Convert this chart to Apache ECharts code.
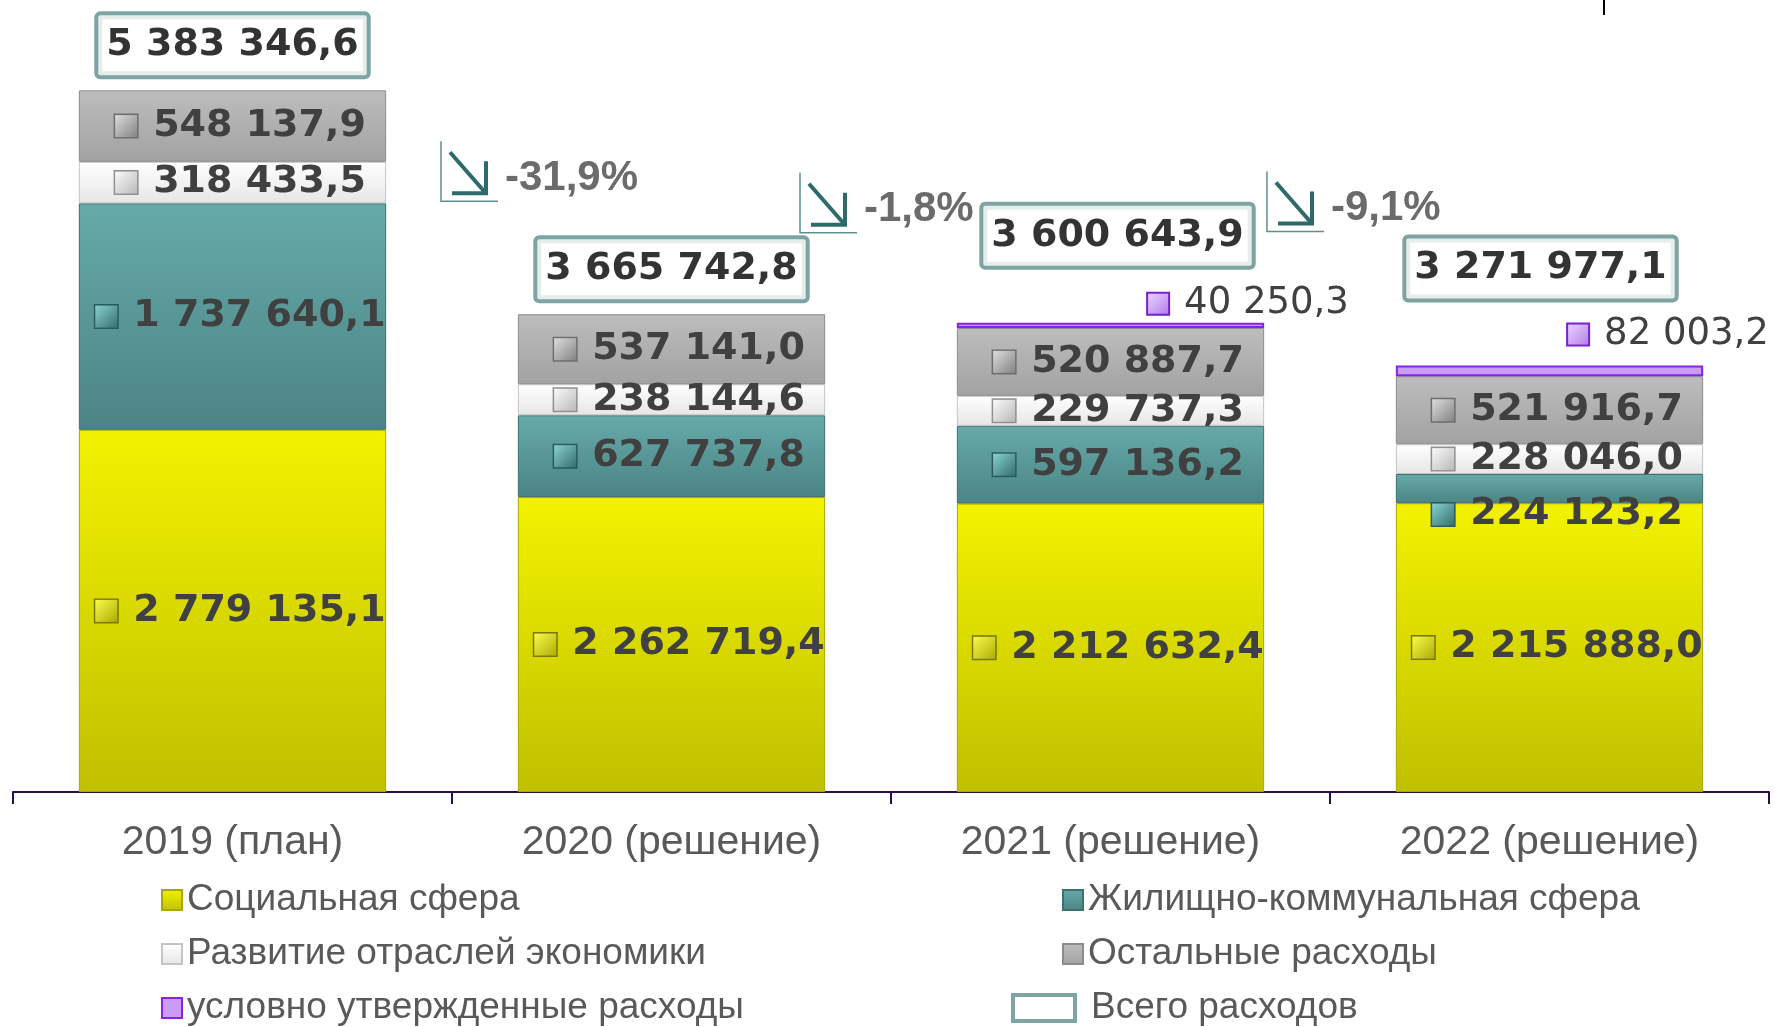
<!DOCTYPE html>
<html>
<head>
<meta charset="utf-8">
<script src="https://cdn.jsdelivr.net/npm/echarts@6/dist/echarts.min.js"></script>
<style>
html,body{margin:0;padding:0;background:#fff;}
#chart{width:1775px;height:1027px;}
</style>
</head>
<body>
<div id="chart"></div>
<script>
// ---- data ----
const categories = ['2019 (план)', '2020 (решение)', '2021 (решение)', '2022 (решение)'];
const social = [2779135.1, 2262719.4, 2212632.4, 2215888.0];
const housing = [1737640.1, 627737.8, 597136.2, 224123.2];
const economy = [318433.5, 238144.6, 229737.3, 228046.0];
const other = [548137.9, 537141.0, 520887.7, 521916.7];
const conditional = ['-', '-', 40250.3, 82003.2];
const totals = [5383346.6, 3665742.8, 3600643.9, 3271977.1];
const changeLabels = ['-31,9%', '-1,8%', '-9,1%'];
const names = {
  social: 'Социальная сфера',
  housing: 'Жилищно-коммунальная сфера',
  economy: 'Развитие отраслей экономики',
  other: 'Остальные расходы',
  conditional: 'условно утвержденные расходы',
  total: 'Всего расходов'
};

function fmt(v) {
  const parts = Number(v).toFixed(1).split('.');
  return parts[0].replace(/\B(?=(\d{3})+(?!\d))/g, ' ') + ',' + parts[1];
}

function grad(top, bottom) {
  return new echarts.graphic.LinearGradient(0, 0, 0, 1, [
    { offset: 0, color: top }, { offset: 1, color: bottom }
  ]);
}
function keyGrad(light, dark) {
  return new echarts.graphic.LinearGradient(0, 0, 1, 1, [
    { offset: 0, color: light }, { offset: 1, color: dark }
  ]);
}

const VAL_FONT = 'DejaVu Sans';
const TXT_FONT = 'Liberation Sans, Arial, sans-serif';

function segLabel(keyFill, keyBorder) {
  return {
    show: true,
    position: 'inside',
    offset: [8, 0],
    formatter: p => '{k| }{s|}{v|' + fmt(p.value) + '}',
    rich: {
      k: { width: 22, height: 22, backgroundColor: keyFill, borderColor: keyBorder, borderWidth: 1.5 },
      s: { width: 16 },
      v: { fontFamily: VAL_FONT, fontWeight: 'bold', fontSize: 38, color: '#404040', lineHeight: 42 }
    }
  };
}

const colors = {
  social: grad('#f2f200', '#c0c000'),
  housing: grad('#66aaaa', '#4c8484'),
  economy: grad('#ffffff', '#e6e6e6'),
  other: grad('#bdbdbd', '#a2a2a2'),
  conditional: '#c99cf6'
};

const chart = echarts.init(document.getElementById('chart'), null, { renderer: 'canvas' });

const annoDx = [-11, -91, -63];
const annoDy = [-173, -150, -194];

const legendText = { fontFamily: TXT_FONT, fontSize: 37, color: '#595959', lineHeight: 40 };
function legendAt(name, left, top) {
  return {
    orient: 'vertical', left: left, top: top, padding: 0, itemWidth: 20, itemHeight: 20, icon: 'rect',
    selectedMode: false, textStyle: legendText, data: [name]
  };
}

const option = {
  animation: false,
  backgroundColor: '#ffffff',
  grid: { left: 13, right: 6, top: 10, bottom: 235 },
  xAxis: {
    type: 'category',
    data: categories,
    axisLine: { show: true, lineStyle: { color: '#2b0b4f', width: 2 } },
    axisTick: { show: true, length: 12, lineStyle: { color: '#2b0b4f', width: 2 } },
    axisLabel: { fontFamily: TXT_FONT, fontSize: 41, color: '#595959', margin: 30 },
    splitLine: { show: false }
  },
  yAxis: { type: 'value', min: 0, max: 6000000, show: false, splitLine: { show: false } },
  legend: [
    legendAt(names.social, 161, 880),
    legendAt(names.economy, 161, 934),
    legendAt(names.conditional, 161, 988),
    legendAt(names.housing, 1062, 880),
    legendAt(names.other, 1062, 934),
    {
      orient: 'vertical', left: 1011, top: 988, padding: 0, itemWidth: 62, itemHeight: 26, icon: 'rect',
      selectedMode: false,
      textStyle: Object.assign({}, legendText, { padding: [0, 0, 0, 11] }),
      data: [{ name: names.total, icon: 'rect', itemStyle: { color: '#ffffff', borderColor: '#5e8c8c', borderWidth: 4 } }]
    }
  ],
  graphic: [
    { type: 'line', shape: { x1: 1604, y1: 0, x2: 1604, y2: 15 }, style: { stroke: '#000', lineWidth: 2 } }
  ],
  series: [
    {
      name: names.social, type: 'bar', stack: 'all', barWidth: '70%',
      itemStyle: { color: colors.social, borderColor: '#a8a800', borderWidth: 1 },
      label: segLabel(keyGrad('#ffff50', '#a8a800'), '#7a7a00'),
      data: social
    },
    {
      name: names.housing, type: 'bar', stack: 'all',
      itemStyle: { color: colors.housing, borderColor: '#3d7070', borderWidth: 1 },
      label: segLabel(keyGrad('#8fd6d6', '#2f6a6a'), '#2a5c5c'),
      data: housing.map((v, i) => i === 3 ? { value: v, label: { offset: [8, 26] } } : v)
    },
    {
      name: names.economy, type: 'bar', stack: 'all',
      itemStyle: { color: colors.economy, borderColor: '#c4c4c4', borderWidth: 1 },
      label: segLabel(keyGrad('#ffffff', '#b4b4b4'), '#909090'),
      data: economy
    },
    {
      name: names.other, type: 'bar', stack: 'all',
      itemStyle: { color: colors.other, borderColor: '#8c8c8c', borderWidth: 1 },
      label: segLabel(keyGrad('#e2e2e2', '#7e7e7e'), '#6e6e6e'),
      data: other
    },
    {
      name: names.conditional, type: 'bar', stack: 'all',
      itemStyle: { color: colors.conditional, borderColor: '#8a22e6', borderWidth: 2 },
      label: {
        show: true, position: 'top', distance: 5,
        formatter: p => '{k| }{s|}{v|' + fmt(p.value) + '}',
        rich: {
          k: { width: 20, height: 20, backgroundColor: keyGrad('#ecd8ff', '#b07ae8'), borderColor: '#7a1fd0', borderWidth: 2 },
          s: { width: 16 },
          v: { fontFamily: VAL_FONT, fontSize: 37, color: '#404040', lineHeight: 40 }
        }
      },
      data: conditional.map((v, i) => {
        if (i === 2) return { value: v, label: { offset: [138, 6] } };
        if (i === 3) return { value: v, label: { offset: [119, -6] } };
        return v;
      })
    },
    {
      name: names.total, type: 'scatter', symbolSize: 0, z: 5,
      itemStyle: { color: '#ffffff', borderColor: '#5e8c8c', borderWidth: 4 },
      label: {
        show: true, position: 'top', distance: 15,
        formatter: p => fmt(p.value),
        fontFamily: VAL_FONT, fontWeight: 'bold', fontSize: 38, color: '#000000', lineHeight: 44,
        backgroundColor: '#ffffff', borderColor: '#5e8c8c', borderWidth: 4, borderRadius: 2,
        padding: [8, 8, 8, 8]
      },
      data: totals.map((v, i) => {
        if (i === 2) return { value: v, label: { offset: [7, -42] } };
        if (i === 3) return { value: v, label: { offset: [-9, -52] } };
        return v;
      })
    },
    {
      name: 'change', type: 'custom', z: 6, silent: true,
      encode: { x: 0, y: 1 },
      data: changeLabels.map((t, i) => [i, totals[i + 1]]),
      renderItem: function (params, api) {
        const i = api.value(0);
        const catW = api.size([1, 0])[0];
        const bx = api.coord([i, 0])[0] + catW / 2;
        const topY = api.coord([i + 1, api.value(1)])[1];
        const x = bx + annoDx[i];
        const y = topY + annoDy[i];
        return {
          type: 'group',
          children: [
            { type: 'polyline', shape: { points: [[x, y], [x, y + 60], [x + 57, y + 60]] },
              style: { stroke: '#5f8f8f', lineWidth: 1.5, fill: null } },
            { type: 'line', shape: { x1: x + 9, y1: y + 11, x2: x + 44, y2: y + 51 },
              style: { stroke: '#2d6b6b', lineWidth: 4 } },
            { type: 'polyline', shape: { points: [[x + 45, y + 20], [x + 45, y + 52], [x + 11, y + 52]] },
              style: { stroke: '#2d6b6b', lineWidth: 4, fill: null } },
            { type: 'text', style: { x: x + 64, y: y + 37, text: changeLabels[i], fill: '#6b6b6b',
              font: 'bold 42px Liberation Sans, Arial, sans-serif', verticalAlign: 'middle', align: 'left' } }
          ]
        };
      }
    }
  ]
};

chart.setOption(option);
</script>
</body>
</html>
